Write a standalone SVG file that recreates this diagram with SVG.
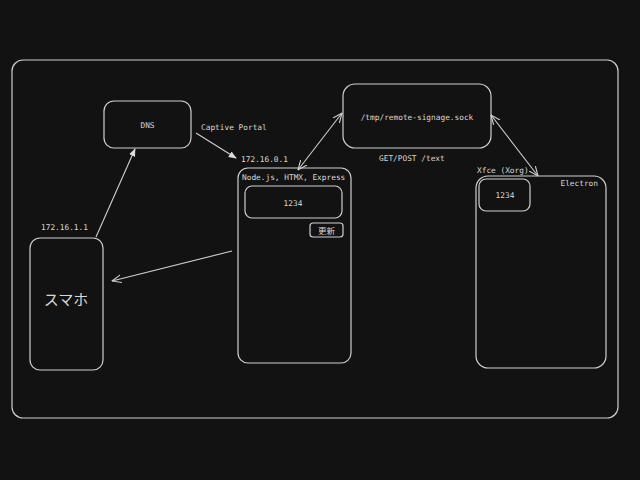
<svg xmlns="http://www.w3.org/2000/svg" width="640" height="480" viewBox="0 0 640 480">
<defs>
<style>
.box{fill:none;stroke:#cfcfcf;stroke-width:1.2}
.ln{fill:none;stroke:#cfcfcf;stroke-width:1.1}
.t{fill:#d8d8d8;font-family:"DejaVu Sans Mono","Liberation Mono",monospace;font-size:7.8px}
.j{fill:#d8d8d8;font-family:"Noto Sans CJK JP","Noto Sans",sans-serif}
</style>
<marker id="fa" viewBox="0 0 10 10" refX="9" refY="5" markerWidth="8" markerHeight="8" markerUnits="userSpaceOnUse" orient="auto">
<path d="M0,1 L10,5 L0,9 Z" fill="#dcdcdc"/>
</marker>
<marker id="oa" viewBox="0 0 10 10" refX="9.5" refY="5" markerWidth="10" markerHeight="10" markerUnits="userSpaceOnUse" orient="auto-start-reverse">
<path d="M0,1 L9.5,5 L0,9" fill="none" stroke="#cfcfcf" stroke-width="1.1"/>
</marker>
</defs>
<rect width="640" height="480" fill="#121212"/>
<rect class="box" x="12" y="60" width="606" height="358" rx="11"/>
<g id="dns">
<rect class="box" x="104" y="101" width="87" height="47" rx="10"/>
<text class="t" x="147.5" y="128" text-anchor="middle">DNS</text>
</g>
<g id="phone">
<rect class="box" x="30" y="238" width="73" height="132" rx="10"/>
<text class="j" x="66" y="305" text-anchor="middle" font-size="15">スマホ</text>
</g>
<g id="node">
<rect class="box" x="238" y="168" width="113" height="195" rx="10"/>
<text class="t" x="242" y="180">Node.js, HTMX, Express</text>
<rect class="box" x="245" y="186" width="97" height="32" rx="7"/>
<text class="t" x="293" y="206" text-anchor="middle">1234</text>
<rect class="box" x="310" y="223" width="33" height="14" rx="3"/>
<text class="j" x="326.5" y="234" text-anchor="middle" font-size="8.5">更新</text>
</g>
<g id="sock">
<rect class="box" x="343" y="84" width="148" height="64" rx="12"/>
<text class="t" x="417" y="120" text-anchor="middle">/tmp/remote-signage.sock</text>
</g>
<g id="electron">
<rect class="box" x="476" y="176" width="130" height="192" rx="12"/>
<text class="t" x="598" y="186" text-anchor="end">Electron</text>
<rect class="box" x="479" y="179" width="51" height="32" rx="7"/>
<text class="t" x="505" y="198" text-anchor="middle">1234</text>
</g>
<g id="labels">
<text class="t" x="201" y="130">Captive Portal</text>
<text class="t" x="241" y="162">172.16.0.1</text>
<text class="t" x="41" y="230">172.16.1.1</text>
<text class="t" x="379" y="161">GET/POST /text</text>
<text class="t" x="477" y="173">Xfce (Xorg)</text>
</g>
<g id="connectors">
<line class="ln" x1="96" y1="237" x2="135" y2="149" marker-end="url(#fa)"/>
<line class="ln" x1="196" y1="133" x2="236" y2="158" marker-end="url(#fa)"/>
<line class="ln" x1="232" y1="251" x2="112" y2="281" marker-end="url(#oa)"/>
<line class="ln" x1="298" y1="170" x2="342" y2="113" marker-start="url(#oa)" marker-end="url(#oa)"/>
<line class="ln" x1="491" y1="115" x2="538" y2="176" marker-start="url(#oa)" marker-end="url(#oa)"/>
</g>
</svg>
